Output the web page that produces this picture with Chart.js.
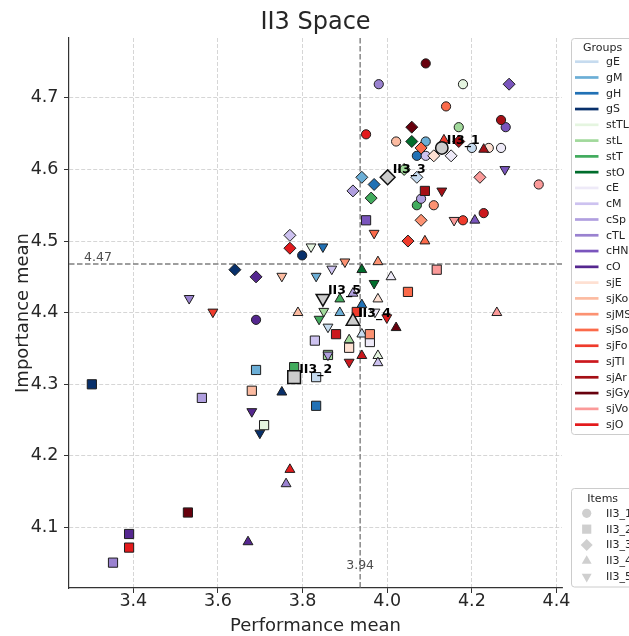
<!DOCTYPE html>
<html>
<head>
<meta charset="utf-8">
<script src="https://cdn.jsdelivr.net/npm/chart.js@4.4.1/dist/chart.umd.min.js"></script>
<style>
  html, body { margin: 0; padding: 0; background: #fff; }
  canvas { display: block; }
</style>
</head>
<body>
<canvas id="spaceChart" width="629" height="636" style="width:629px;height:636px"></canvas>
<script>
// groups (legend order) and their colours
const groups = ['gE', 'gM', 'gH', 'gS', 'stTL', 'stL', 'stT', 'stO',
  'cE', 'cM', 'cSp', 'cTL', 'cHN', 'cO',
  'sjE', 'sjKo', 'sjMS', 'sjSo', 'sjFo', 'sjTI', 'sjAr', 'sjGy', 'sjVo', 'sjO'];
const groupColors = ['#c6dbef', '#6baed6', '#2171b5', '#08306b', '#e5f5e0', '#a1d99b', '#41ab5d', '#006d2c',
  '#eeeaf8', '#cdc2f0', '#b09fdf', '#9a82d0', '#7a55bd', '#55278f',
  '#fee0d2', '#fcbba1', '#fc9272', '#fb6a4a', '#ef3b2c', '#cb181d', '#a50f15', '#67000d', '#fb9a99', '#e31a1c'];

const items = ['II3_1', 'II3_2', 'II3_3', 'II3_4', 'II3_5'];

// performance mean per group, one value per item (null = not visible)
const perfMean = [
  [4.200, 3.832, 4.070, 3.940, 3.860],
  [4.091, 3.690, 3.940, 3.888, 3.832],
  [4.070, 3.832, 3.969, 3.940, 3.848],
  [3.799, 3.302, 3.640, 3.751, 3.699],
  [4.179, 3.709, null, 3.978, 3.820],
  [4.169, 3.860, 4.040, 3.910, 3.850],
  [4.070, 3.780, 3.962, 3.888, 3.839],
  [null, null, 4.058, 3.940, 3.969],
  [4.269, 3.959, 4.151, 4.009, 3.971],
  [4.091, 3.829, 3.770, 3.978, 3.869],
  [4.080, 3.562, 3.919, 3.919, 3.860],
  [3.980, 3.352, null, 3.761, 3.532],
  [4.280, 3.950, 4.288, 4.207, 4.278],
  [3.690, 3.390, 3.690, 3.671, 3.680],
  [4.240, 3.910, 4.110, 3.978, null],
  [4.021, 3.680, null, 3.789, 3.751],
  [4.110, 3.959, 4.080, 3.978, 3.900],
  [4.139, 4.049, 4.080, 4.089, 3.969],
  [4.179, 3.928, 4.049, 4.134, 3.588],
  [4.228, 3.879, null, 3.940, 3.910],
  [4.269, 4.089, 4.169, 4.228, 4.129],
  [4.091, 3.529, 4.058, 4.021, null],
  [4.358, 4.117, 4.219, 4.259, 4.158],
  [3.950, 3.390, 3.770, 3.770, 3.999]
];

// importance mean per group, one value per item
const impMean = [
  [4.630, 4.310, 4.589, 4.370, 4.380],
  [4.639, 4.320, 4.589, 4.400, 4.451],
  [4.619, 4.270, 4.579, 4.411, 4.492],
  [4.480, 4.300, 4.460, 4.289, 4.232],
  [4.719, 4.243, null, 4.340, 4.492],
  [4.659, 4.341, 4.600, 4.362, 4.402],
  [4.550, 4.324, 4.560, 4.419, 4.391],
  [null, null, 4.639, 4.460, 4.441],
  [4.630, 4.359, 4.619, 4.450, 4.401],
  [4.619, 4.361, 4.508, 4.330, 4.461],
  [4.559, 4.281, 4.570, 4.427, 4.341],
  [4.719, 4.051, null, 4.161, 4.420],
  [4.659, 4.529, 4.719, 4.529, 4.600],
  [4.390, 4.091, 4.450, 4.080, 4.262],
  [4.630, 4.351, 4.619, 4.419, null],
  [4.639, 4.291, null, 4.400, 4.451],
  [4.550, 4.370, 4.529, 4.471, 4.471],
  [4.688, 4.429, 4.630, 4.500, 4.511],
  [4.529, 4.401, 4.500, 4.641, 4.401],
  [4.539, 4.370, null, 4.340, 4.331],
  [4.669, 4.570, 4.639, 4.628, 4.570],
  [4.748, 4.121, 4.659, 4.379, null],
  [4.579, 4.460, 4.589, 4.400, 4.529],
  [4.649, 4.072, 4.490, 4.181, 4.393]
];

// item means (big grey markers)
const itemPerf = [4.129, 3.780, 4.001, 3.919, 3.848];
const itemImp = [4.630, 4.310, 4.589, 4.388, 4.420];

// overall means (dashed lines)
const overallPerf = 3.936;
const overallImp = 4.468;

const xTicks = [3.4, 3.6, 3.8, 4.0, 4.2, 4.4];
const yTicks = [4.1, 4.2, 4.3, 4.4, 4.5, 4.6, 4.7];

// marker look per item
const shapes = ['circle', 'rect', 'rectRot', 'triangle', 'triangle'];
const turns = [0, 0, 0, 0, 180];
const smallR = [4.6, 6.5, 6.0, 5.7, 5.7];
const bigR = [6.2, 9.0, 7.4, 7.8, 7.8];

const FONT = 'DejaVu Sans';
const TXT = '#262626';
Chart.defaults.font.family = FONT;

const datasets = groups.map((g, gi) => ({
  label: g,
  data: items.map((_, k) => ({ x: perfMean[gi][k], y: impMean[gi][k] })),
  pointStyle: shapes,
  pointRotation: turns,
  pointRadius: smallR,
  pointBackgroundColor: groupColors[gi],
  pointBorderColor: '#1e1e1e',
  pointBorderWidth: 1,
  order: groups.length - gi + 1
}));

datasets.push({
  label: 'Items',
  data: items.map((_, k) => ({ x: itemPerf[k], y: itemImp[k] })),
  pointStyle: shapes,
  pointRotation: turns,
  pointRadius: bigR,
  pointBackgroundColor: '#cccccc',
  pointBorderColor: '#111111',
  pointBorderWidth: 1.5,
  order: 0
});

const fixBox = (w, h) => (scale) => {
  if (w) scale.width = w;
  if (h) scale.height = h;
};

// dashed overall-mean lines under the points
const meanLines = {
  id: 'meanLines',
  beforeDatasetsDraw(chart) {
    const { ctx, chartArea: a, scales: { x, y } } = chart;
    const px = x.getPixelForValue(overallPerf);
    const py = y.getPixelForValue(overallImp);
    ctx.save();
    ctx.strokeStyle = '#7f7f7f';
    ctx.lineWidth = 1.4;
    ctx.setLineDash([5.5, 2.5]);
    ctx.beginPath();
    ctx.moveTo(px, a.top);
    ctx.lineTo(px, a.bottom);
    ctx.moveTo(a.left, py);
    ctx.lineTo(a.right, py);
    ctx.stroke();
    ctx.restore();
  }
};

const drawLegendBox = (ctx, x, y, w, h) => {
  ctx.save();
  ctx.beginPath();
  ctx.roundRect(x, y, w, h, 3);
  ctx.fillStyle = 'rgba(255,255,255,0.8)';
  ctx.fill();
  ctx.strokeStyle = '#cccccc';
  ctx.lineWidth = 1;
  ctx.stroke();
  ctx.restore();
};

// texts, labels and the two legends
const overlay = {
  id: 'overlay',
  afterDatasetsDraw(chart) {
    const { ctx, chartArea: a, scales: { x, y } } = chart;
    ctx.save();

    // labels next to the item means
    ctx.font = 'bold 12.5px ' + FONT;
    ctx.fillStyle = '#000';
    ctx.textAlign = 'left';
    ctx.textBaseline = 'alphabetic';
    items.forEach((name, k) => {
      ctx.fillText(name, x.getPixelForValue(itemPerf[k]) + 5, y.getPixelForValue(itemImp[k]) - 4);
    });

    // overall mean values
    ctx.font = '12.5px ' + FONT;
    ctx.fillStyle = '#4d4d4d';
    ctx.fillText(overallImp.toFixed(2), a.left + 15, y.getPixelForValue(overallImp) - 2.5);
    ctx.textAlign = 'center';
    ctx.fillText(overallPerf.toFixed(2), x.getPixelForValue(overallPerf), a.bottom - 19);

    // title and axis titles
    const cx = (a.left + a.right) / 2;
    ctx.fillStyle = TXT;
    ctx.font = '24px ' + FONT;
    ctx.fillText('II3 Space', cx, 28.5);
    ctx.font = '18px ' + FONT;
    ctx.fillText('Performance mean', cx, 631);
    ctx.save();
    ctx.translate(28, (a.top + a.bottom) / 2);
    ctx.rotate(-Math.PI / 2);
    ctx.fillText('Importance mean', 0, 0);
    ctx.restore();

    // groups legend
    const lx = a.right + 9.5;
    drawLegendBox(ctx, lx, a.top + 0.5, 90, 396);
    ctx.font = '11px ' + FONT;
    ctx.fillStyle = TXT;
    ctx.textAlign = 'center';
    ctx.fillText('Groups', 602.5, 50.5);
    ctx.textAlign = 'left';
    ctx.textBaseline = 'middle';
    groups.forEach((g, gi) => {
      const yy = 61.7 + gi * 15.78;
      ctx.strokeStyle = groupColors[gi];
      ctx.lineWidth = 2.7;
      ctx.beginPath();
      ctx.moveTo(575, yy);
      ctx.lineTo(598.5, yy);
      ctx.stroke();
      ctx.fillStyle = TXT;
      ctx.fillText(g, 606, yy + 0.5);
    });

    // items legend
    drawLegendBox(ctx, lx, 488.5, 90, 98.5);
    ctx.textAlign = 'center';
    ctx.textBaseline = 'alphabetic';
    ctx.fillText('Items', 602.7, 501.5);
    ctx.textAlign = 'left';
    ctx.textBaseline = 'middle';
    items.forEach((name, k) => {
      const yy = 513.3 + k * 15.85;
      ctx.fillStyle = '#cfcfcf';
      Chart.helpers.drawPoint(ctx, {
        pointStyle: shapes[k], rotation: turns[k], radius: smallR[k], borderWidth: 0
      }, 586.7, yy);
      ctx.fillStyle = TXT;
      ctx.fillText(name, 606, yy + 0.5);
    });

    ctx.restore();
  }
};

const ctx = document.getElementById('spaceChart');

const spaceChart = new Chart(ctx, {
  type: 'scatter',
  data: { datasets: datasets },
  options: {
    responsive: false,
    animation: false,
    events: [],
    layout: { padding: { top: 38, right: 67, left: 0, bottom: 0 } },
    plugins: {
      legend: { display: false },
      tooltip: { enabled: false },
      title: { display: false }
    },
    scales: {
      x: {
        type: 'linear',
        min: 3.248,
        max: 4.413,
        afterFit: fixBox(0, 48),
        afterBuildTicks: (scale) => { scale.ticks = xTicks.map((v) => ({ value: v })); },
        ticks: {
          color: TXT,
          font: { size: 17.5, family: FONT, lineHeight: 1 },
          padding: 0,
          maxRotation: 0,
          autoSkip: false,
          callback: (v) => Number(v).toFixed(1)
        },
        grid: { color: '#cccccc', lineWidth: 0.8, tickColor: '#333', tickLength: 5, tickWidth: 1 },
        border: { display: true, color: '#333', width: 1.2, dash: [4, 2] }
      },
      y: {
        type: 'linear',
        min: 4.0156,
        max: 4.7835,
        afterFit: fixBox(69, 0),
        afterBuildTicks: (scale) => { scale.ticks = yTicks.map((v) => ({ value: v })); },
        ticks: {
          color: TXT,
          font: { size: 17.5, family: FONT },
          padding: 5.5,
          autoSkip: false,
          callback: (v) => Number(v).toFixed(1)
        },
        grid: { color: '#cccccc', lineWidth: 0.8, tickColor: '#333', tickLength: 5, tickWidth: 1 },
        border: { display: true, color: '#333', width: 1.2, dash: [4, 2] }
      }
    }
  },
  plugins: [meanLines, overlay]
});
</script>
</body>
</html>
